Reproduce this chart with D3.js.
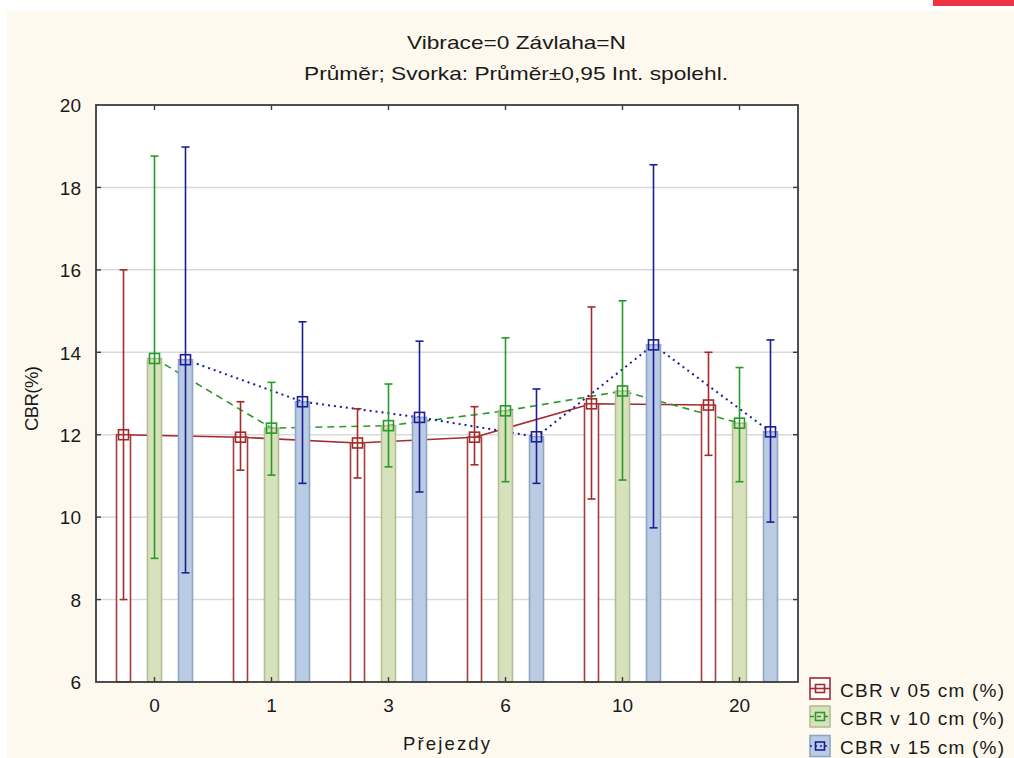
<!DOCTYPE html>
<html>
<head>
<meta charset="utf-8">
<script src="https://cdn.jsdelivr.net/npm/d3@7"></script>
<style>
  html, body { margin: 0; padding: 0; background: #ffffff; }
  svg { display: block; font-family: "Liberation Sans", Arial, sans-serif; }
</style>
</head>
<body>
<svg id="chart" width="1014" height="758"></svg>
<script>
// Passes (Přejezdy) on the x axis
const categories = ["0", "1", "3", "6", "10", "20"];

// CBR at 5 cm: mean and 95 % confidence limits
const mean05 = [12.00, 11.94, 11.80, 11.94, 12.75, 12.72];
const low05  = [ 8.00, 11.14, 10.95, 11.27, 10.44, 11.50];
const high05 = [16.00, 12.80, 12.63, 12.68, 15.10, 14.00];

// CBR at 10 cm
const mean10 = [13.85, 12.16, 12.22, 12.58, 13.06, 12.28];
const low10  = [ 9.00, 11.02, 11.22, 10.86, 10.90, 10.86];
const high10 = [18.76, 13.27, 13.23, 14.35, 15.25, 13.63];

// CBR at 15 cm
const mean15 = [13.82, 12.80, 12.42, 11.95, 14.18, 12.07];
const low15  = [ 8.65, 10.82, 10.61, 10.82,  9.74,  9.88];
const high15 = [18.98, 14.74, 14.27, 13.11, 18.55, 14.30];

const yTicks = [6, 8, 10, 12, 14, 16, 18, 20];
const seriesNames = ["CBR v 05 cm (%)", "CBR v 10 cm (%)", "CBR v 15 cm (%)"];

// Drawing styles per series
const styles = [
  { line: "#a32b2b", fill: "#ffffff", edge: "#a83a3a", dash: null,  width: 1.6 },
  { line: "#279a27", fill: "#d7e2bc", edge: "#b2bf92", dash: "7,5", width: 1.6 },
  { line: "#1d1d98", fill: "#b9cce4", edge: "#8ea5c4", dash: "2,4", width: 2.0 }
];

const series = [
  { key: "s05", mean: mean05, low: low05, high: high05 },
  { key: "s10", mean: mean10, low: low10, high: high10 },
  { key: "s15", mean: mean15, low: low15, high: high15 }
].map((s, i) => ({ ...s, name: seriesNames[i], style: styles[i] }));

const svg = d3.select("#chart");

// Page background
svg.append("rect").attr("x", 0).attr("y", 0).attr("width", 1014).attr("height", 758).attr("fill", "#ffffff");
svg.append("rect").attr("x", 7).attr("y", 11).attr("width", 1007).attr("height", 747).attr("fill", "#fef9ee");
svg.append("rect").attr("x", 933).attr("y", 0).attr("width", 81).attr("height", 6).attr("fill", "#ee3342");

const plot = { left: 96, right: 798, top: 105, bottom: 682 };

const x = d3.scaleBand().domain(categories).range([plot.left, plot.right]);
const xs = d3.scaleBand().domain(series.map(s => s.key)).range([-46.5, 46.5]);
const y = d3.scaleLinear().domain([6, 20]).range([plot.bottom, plot.top]);

const cx = (cat, key) => x(cat) + x.bandwidth() / 2 + xs(key) + xs.bandwidth() / 2;
const barW = 14;

// Plot area
svg.append("rect")
  .attr("x", plot.left).attr("y", plot.top)
  .attr("width", plot.right - plot.left).attr("height", plot.bottom - plot.top)
  .attr("fill", "#ffffff");

// Horizontal grid
svg.append("g").selectAll("line")
  .data(yTicks.filter(t => t > 6 && t < 20))
  .join("line")
  .attr("x1", plot.left).attr("x2", plot.right)
  .attr("y1", d => y(d)).attr("y2", d => y(d))
  .attr("stroke", "#dadada").attr("stroke-width", 1.5);

// Connecting lines (behind the bars)
series.forEach(s => {
  const line = d3.line()
    .x((d, i) => cx(categories[i], s.key))
    .y(d => y(d));
  svg.append("path")
    .datum(s.mean)
    .attr("d", line)
    .attr("fill", "none")
    .attr("stroke", s.style.line)
    .attr("stroke-width", s.style.width)
    .attr("stroke-dasharray", s.style.dash);
});

// Bars
series.forEach(s => {
  svg.append("g").selectAll("rect")
    .data(s.mean)
    .join("rect")
    .attr("x", (d, i) => cx(categories[i], s.key) - barW / 2)
    .attr("y", d => y(d))
    .attr("width", barW)
    .attr("height", d => y(6) - y(d))
    .attr("fill", s.style.fill)
    .attr("stroke", s.style.edge)
    .attr("stroke-width", 1.6);
});

// Confidence whiskers and mean markers
series.forEach(s => {
  const g = svg.append("g").attr("stroke", s.style.line).attr("fill", "none").attr("stroke-width", 1.6);
  categories.forEach((c, i) => {
    const px = cx(c, s.key);
    const yLo = Math.min(y(s.low[i]), plot.bottom);
    g.append("line").attr("x1", px).attr("x2", px).attr("y1", y(s.high[i])).attr("y2", yLo);
    g.append("line").attr("x1", px - 4).attr("x2", px + 4).attr("y1", y(s.high[i])).attr("y2", y(s.high[i]));
    if (s.low[i] > 6) {
      g.append("line").attr("x1", px - 4).attr("x2", px + 4).attr("y1", y(s.low[i])).attr("y2", y(s.low[i]));
    }
    g.append("rect").attr("x", px - 5).attr("y", y(s.mean[i]) - 5).attr("width", 10).attr("height", 10);
  });
});

// Frame
svg.append("rect")
  .attr("x", plot.left).attr("y", plot.top)
  .attr("width", plot.right - plot.left).attr("height", plot.bottom - plot.top)
  .attr("fill", "none").attr("stroke", "#3c3c3c").attr("stroke-width", 1.8);

// Ticks on all four sides, pointing inward
const tickLen = 5;
const tg = svg.append("g").attr("stroke", "#3c3c3c").attr("stroke-width", 1.4);
yTicks.filter(t => t > 6 && t < 20).forEach(t => {
  tg.append("line").attr("x1", plot.left).attr("x2", plot.left + tickLen).attr("y1", y(t)).attr("y2", y(t));
  tg.append("line").attr("x1", plot.right - tickLen).attr("x2", plot.right).attr("y1", y(t)).attr("y2", y(t));
});
categories.forEach(c => {
  const px = x(c) + x.bandwidth() / 2;
  tg.append("line").attr("x1", px).attr("x2", px).attr("y1", plot.bottom).attr("y2", plot.bottom - tickLen);
  tg.append("line").attr("x1", px).attr("x2", px).attr("y1", plot.top).attr("y2", plot.top + tickLen);
});

// Tick labels via d3 axes (lines hidden, text kept)
const yAxis = svg.append("g")
  .attr("transform", `translate(${plot.left},0)`)
  .call(d3.axisLeft(y).tickValues(yTicks).tickSize(0).tickPadding(15).tickFormat(d3.format("d")));
yAxis.select(".domain").remove();
yAxis.selectAll("text")
  .attr("font-size", 19).attr("font-family", "Liberation Sans, Arial, sans-serif")
  .attr("fill", "#1a1a1a").attr("dy", "0.36em");

const xAxis = svg.append("g")
  .attr("transform", `translate(0,${plot.bottom})`)
  .call(d3.axisBottom(x).tickSize(0).tickPadding(17));
xAxis.select(".domain").remove();
xAxis.selectAll("text")
  .attr("font-size", 19).attr("font-family", "Liberation Sans, Arial, sans-serif")
  .attr("fill", "#1a1a1a");

// Titles
svg.append("text")
  .attr("x", 407).attr("y", 49)
  .attr("font-size", 19).attr("fill", "#1a1a1a")
  .attr("textLength", 219).attr("lengthAdjust", "spacingAndGlyphs")
  .text("Vibrace=0 Závlaha=N");
svg.append("text")
  .attr("x", 304).attr("y", 80)
  .attr("font-size", 19).attr("fill", "#1a1a1a")
  .attr("textLength", 424).attr("lengthAdjust", "spacingAndGlyphs")
  .text("Průměr; Svorka: Průměr±0,95 Int. spolehl.");

// Axis titles
svg.append("text")
  .attr("x", 403).attr("y", 750)
  .attr("font-size", 18.5).attr("fill", "#1a1a1a")
  .attr("textLength", 87).attr("lengthAdjust", "spacing")
  .text("Přejezdy");
svg.append("text")
  .attr("transform", "translate(38,431) rotate(-90)")
  .attr("font-size", 18.5).attr("fill", "#1a1a1a")
  .attr("textLength", 65).attr("lengthAdjust", "spacing")
  .text("CBR(%)");

// Legend
const legendRowY = [688.5, 716.5, 746];
series.forEach((s, i) => {
  const g = svg.append("g").attr("transform", `translate(810,${legendRowY[i]})`);
  g.append("rect").attr("x", 0).attr("y", -10.5).attr("width", 20).attr("height", 21)
    .attr("fill", s.style.fill).attr("stroke", i === 0 ? s.style.line : s.style.edge).attr("stroke-width", 1.6);
  g.append("line").attr("x1", 0).attr("x2", 20).attr("y1", 0).attr("y2", 0)
    .attr("stroke", s.style.line).attr("stroke-width", 1.6).attr("stroke-dasharray", s.style.dash ? (i === 1 ? "4,3" : "2,3") : null);
  g.append("rect").attr("x", 5.5).attr("y", -4).attr("width", 9).attr("height", 8)
    .attr("fill", "none").attr("stroke", s.style.line).attr("stroke-width", 1.6);
  g.append("text").attr("x", 30).attr("y", 8)
    .attr("font-size", 19).attr("fill", "#1a1a1a")
    .attr("textLength", 164).attr("lengthAdjust", "spacing")
    .text(s.name);
});
</script>
</body>
</html>
